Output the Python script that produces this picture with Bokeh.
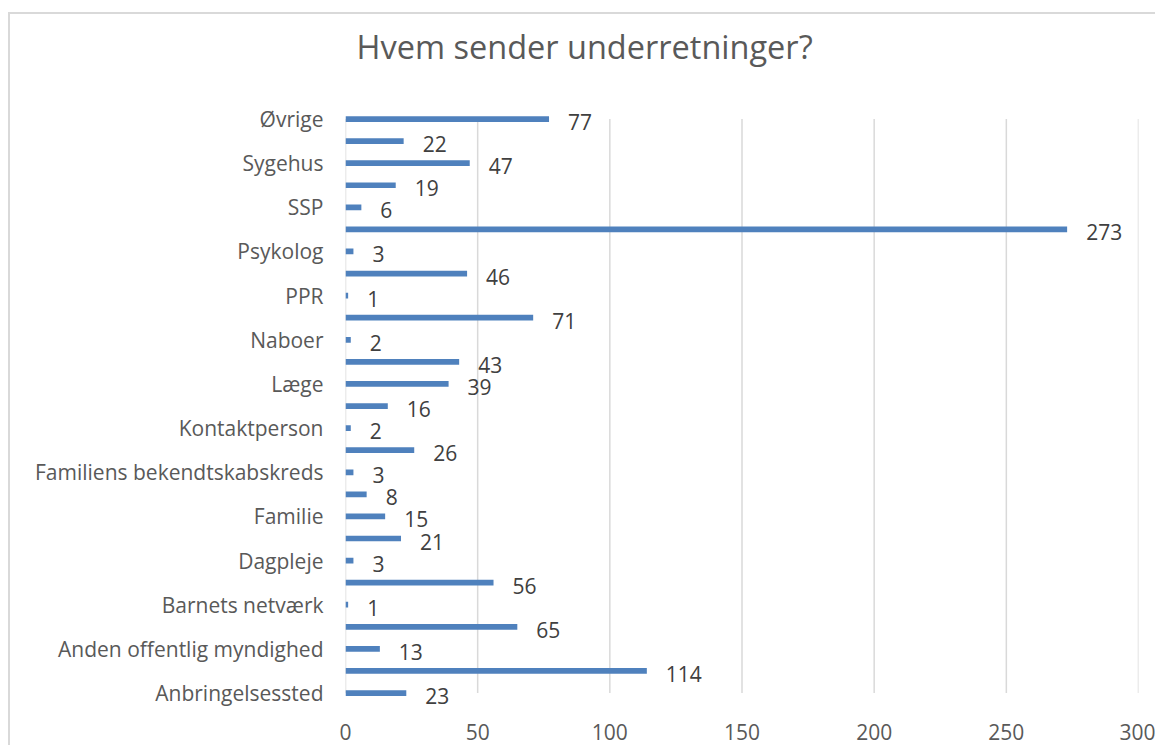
from bokeh.plotting import figure
from bokeh.models import Range1d, FixedTicker, ColumnDataSource, Title
from bokeh.core.properties import value
from bokeh.embed import file_html
from bokeh.resources import INLINE

# Categories from bottom to top (every other one is labelled on the axis)
names = [
    "Anbringelsessted", "",
    "Anden offentlig myndighed", "",
    "Barnets netværk", "",
    "Dagpleje", "",
    "Familie", "",
    "Familiens bekendtskabskreds", "",
    "Kontaktperson", "",
    "Læge", "",
    "Naboer", "",
    "PPR", "",
    "Psykolog", "",
    "SSP", "",
    "Sygehus", "",
    "Øvrige",
]
counts = [23, 114, 13, 65, 1, 56, 3, 21, 15, 8, 3, 26, 2, 16, 39, 43,
          2, 71, 1, 46, 3, 273, 6, 19, 47, 22, 77]
x_ticks = [0, 50, 100, 150, 200, 250, 300]
title_text = "Hvem sender underretninger?"

FONT = "Open Sans"
n = len(names)
ys = list(range(n))
src = ColumnDataSource(dict(y=ys, v=counts, lab=[str(c) for c in counts]))

p = figure(width=1147, height=733, output_backend="svg", toolbar_location=None,
           x_range=Range1d(x_ticks[0], x_ticks[-1]),
           y_range=Range1d(-0.7, n - 1 + 0.25),
           min_border_left=335, min_border_right=19,
           min_border_top=99, min_border_bottom=39,
           title_location=None,
           styles={"border-left": "2px solid #D9D9D9",
                   "border-top": "2px solid #D9D9D9",
                   "margin-top": "12px",
                   "margin-left": "8px"})
p.outline_line_color = None
p.background_fill_color = "white"
p.border_fill_color = "white"
p.xgrid.visible = False
p.ygrid.visible = False

# spacer between frame and title, then the title itself
p.add_layout(Title(text=" ", text_font_size="1px", standoff=42), "above")
p.add_layout(Title(text=title_text, align="left", offset=11, standoff=0,
                   text_font=FONT, text_font_size="32.5px",
                   text_font_style="normal", text_color="#595959"), "above")

# gridlines (span from first to last category, like the reference)
p.segment(x0=x_ticks, x1=x_ticks, y0=[0] * len(x_ticks), y1=[n - 1] * len(x_ticks),
          line_color="#D9D9D9", line_width=1.5)

p.hbar(y="y", left=0, right="v", height=0.26, fill_color="#4F81BD",
       line_color=None, source=src)

p.text(x="v", y="y", text="lab", source=src, x_offset=19, y_offset=3,
       text_align="left", text_baseline="middle",
       text_font=value(FONT), text_font_size="21px", text_color="#404040")

# x axis
xa = p.xaxis[0]
xa.ticker = FixedTicker(ticks=x_ticks)
xa.axis_line_color = None
xa.major_tick_line_color = None
xa.minor_tick_line_color = None
xa.major_label_standoff = 9
xa.major_label_text_font = FONT
xa.major_label_text_font_size = "21px"
xa.major_label_text_color = "#595959"

# y axis
ya = p.yaxis[0]
ya.ticker = FixedTicker(ticks=[i for i, nm in enumerate(names) if nm])
ya.major_label_overrides = {i: nm for i, nm in enumerate(names) if nm}
ya.axis_line_color = None
ya.major_tick_line_color = None
ya.minor_tick_line_color = None
ya.major_label_standoff = 16
ya.major_label_text_font = FONT
ya.major_label_text_font_size = "21px"
ya.major_label_text_color = "#595959"

open("out.html", "w").write(file_html(p, INLINE))
